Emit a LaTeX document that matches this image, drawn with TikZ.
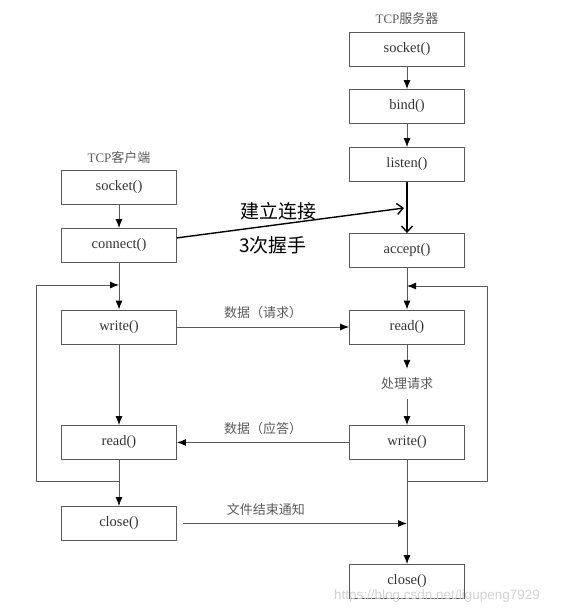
\documentclass[tikz,border=0pt]{standalone}
\usepackage{fontspec}
\setmainfont{Liberation Serif}
\newfontfamily\cjk{Noto Sans CJK SC}
\newfontfamily\wmfont{Liberation Sans}
\usetikzlibrary{arrows.meta}

\begin{document}
\begin{tikzpicture}[x=1pt,y=-1pt,
		func/.style={draw=black!65,line width=0.9pt,minimum width=115pt,minimum height=34pt,inner sep=0pt,font=\fontsize{14.5}{16}\selectfont,text=black!80},
		flow/.style={draw=black!65,line width=0.9pt,-{Latex[length=9pt,width=7pt,color=black]}},
		cnote/.style={font=\cjk\fontsize{13}{15}\selectfont,text=black!65},
		hsnote/.style={font=\cjk\fontsize{19}{22}\selectfont,text=black},
		hand/.style={draw=black,line width=1.4pt,-{Straight Barb[length=6pt,width=11pt]}}]
			\useasboundingbox (0,0) rectangle (572,615);

			% client side
			\node[cnote] (ctitle) at (119,158) {{\rmfamily TCP}客户端};
			\node[func] (csocket) at (119,187.5) {socket()};
			\node[func] (cconnect) at (119,245.5) {connect()};
			\node[func] (cwrite) at (119,327) {write()};
			\node[func] (cread) at (119,442.5) {read()};
			\node[func] (cclose) at (119,523.5) {close()};

			% server side
			\node[cnote] (stitle) at (407,19) {{\rmfamily TCP}服务器};
			\node[func] (ssocket) at (407,49.5) {socket()};
			\node[func] (sbind) at (407,106.5) {bind()};
			\node[func] (slisten) at (407,164.5) {listen()};
			\node[func] (saccept) at (407,250.5) {accept()};
			\node[func] (sread) at (407,327) {read()};
			\node[cnote,inner ysep=9pt] (sproc) at (407,384) {处理请求};
			\node[func] (swrite) at (407,442.5) {write()};
			\node[func] (sclose) at (407,581.5) {close()};

			\coordinate (cturn) at (119,481);
			\coordinate (cback) at (119,285);
			\coordinate (sturn) at (407,481);
			\coordinate (sback) at (407,286);
			\coordinate (hs) at (404,208);
			\coordinate (fin) at (407,523.5);

			\draw[flow] (csocket) -- (cconnect);
			\draw[flow] (cconnect) -- (cwrite);
			\draw[flow] (cwrite) -- (cread);
			\draw[flow] (cread) -- (cclose);
			\draw[flow] (cturn) -- ++(-83,0) |- (cback);

			\draw[flow] (ssocket) -- (sbind);
			\draw[flow] (sbind) -- (slisten);
			\draw[hand] (slisten) -- (saccept);
			\draw[flow] (saccept) -- (sread);
			\draw[flow] (sread) -- (sproc);
			\draw[flow] (sproc) -- (swrite);
			\draw[flow] (swrite) -- (sclose);
			\draw[flow] (sturn) -- ++(80,0) |- (sback);

			% handshake
			\draw[hand] (cconnect) -- (hs);
			\node[hsnote] (hslabel) at (278,211) {建立连接};
			\node[hsnote] (hscount) at (273,245) {3次握手};

			\draw[flow] (cwrite) -- node[cnote,above=4pt] {数据（请求）} (sread);
			\draw[flow] (swrite) -- node[cnote,above=4pt] {数据（应答）} (cread);
			\draw[flow] ([xshift=6pt]cclose.east) -- node[cnote,above=4pt,pos=0.37] {文件结束通知} (fin);

			\node[font=\wmfont\fontsize{13.5}{16}\selectfont,text=black!18] (mark) at (437,596) {https://blog.csdn.net/ligupeng7929};
		\end{tikzpicture}
\end{document}
